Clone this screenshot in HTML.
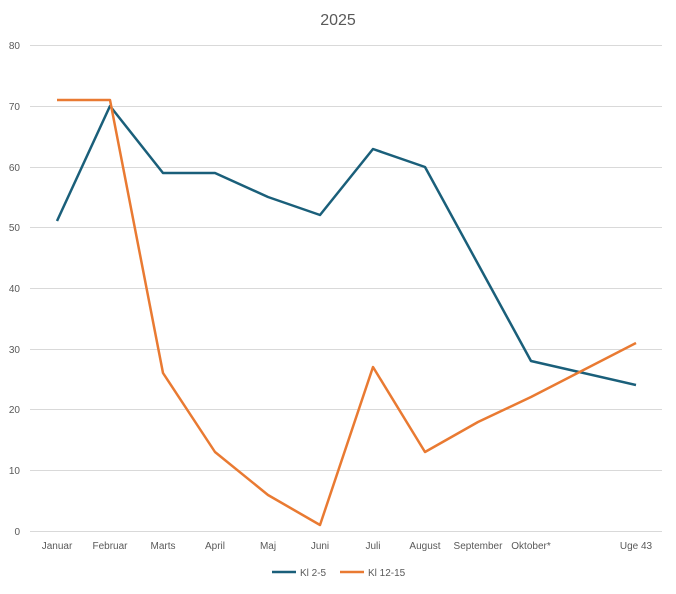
<!DOCTYPE html>
<html><head><meta charset="utf-8"><style>body{margin:0;background:#fff}</style></head><body>
<svg width="676" height="589" xmlns="http://www.w3.org/2000/svg" font-family="Liberation Sans, sans-serif">
<rect width="676" height="589" fill="#fff"/>
<text x="338" y="25" font-size="16" fill="#595959" text-anchor="middle">2025</text>
<g stroke="#d9d9d9" stroke-width="1">
<line x1="30" x2="662" y1="45.5" y2="45.5"/><line x1="30" x2="662" y1="106.5" y2="106.5"/>
<line x1="30" x2="662" y1="167.5" y2="167.5"/><line x1="30" x2="662" y1="227.5" y2="227.5"/>
<line x1="30" x2="662" y1="288.5" y2="288.5"/><line x1="30" x2="662" y1="349.5" y2="349.5"/>
<line x1="30" x2="662" y1="409.5" y2="409.5"/><line x1="30" x2="662" y1="470.5" y2="470.5"/>
<line x1="30" x2="662" y1="531.5" y2="531.5"/>
</g>
<g font-size="10" fill="#595959" text-anchor="end">
<text x="20" y="49">80</text><text x="20" y="110">70</text><text x="20" y="171">60</text>
<text x="20" y="231">50</text><text x="20" y="292">40</text><text x="20" y="353">30</text>
<text x="20" y="413">20</text><text x="20" y="474">10</text><text x="20" y="535">0</text>
</g>
<g font-size="10" fill="#595959" text-anchor="middle">
<text x="57" y="549">Januar</text><text x="110" y="549">Februar</text><text x="163" y="549">Marts</text>
<text x="215" y="549">April</text><text x="268" y="549">Maj</text><text x="320" y="549">Juni</text>
<text x="373" y="549">Juli</text><text x="425" y="549">August</text><text x="478" y="549">September</text>
<text x="531" y="549">Oktober*</text><text x="636" y="549">Uge 43</text>
</g>
<polyline fill="none" stroke="#1a5f7a" stroke-width="2.5" stroke-linejoin="round" points="57,221 110,106 163,173 215,173 268,197 320,215 373,149 425,167 478,264 531,361 636,385"/>
<polyline fill="none" stroke="#e97a32" stroke-width="2.5" stroke-linejoin="round" points="57,100 110,100 163,373 215,452 268,495 320,525 373,367 425,452 478,422 531,397 636,343"/>
<line x1="272" x2="296" y1="572" y2="572" stroke="#1a5f7a" stroke-width="2.5"/>
<text x="300" y="576" font-size="10" fill="#595959">Kl 2-5</text>
<line x1="340" x2="364" y1="572" y2="572" stroke="#e97a32" stroke-width="2.5"/>
<text x="368" y="576" font-size="10" fill="#595959">Kl 12-15</text>
</svg>
</body></html>
